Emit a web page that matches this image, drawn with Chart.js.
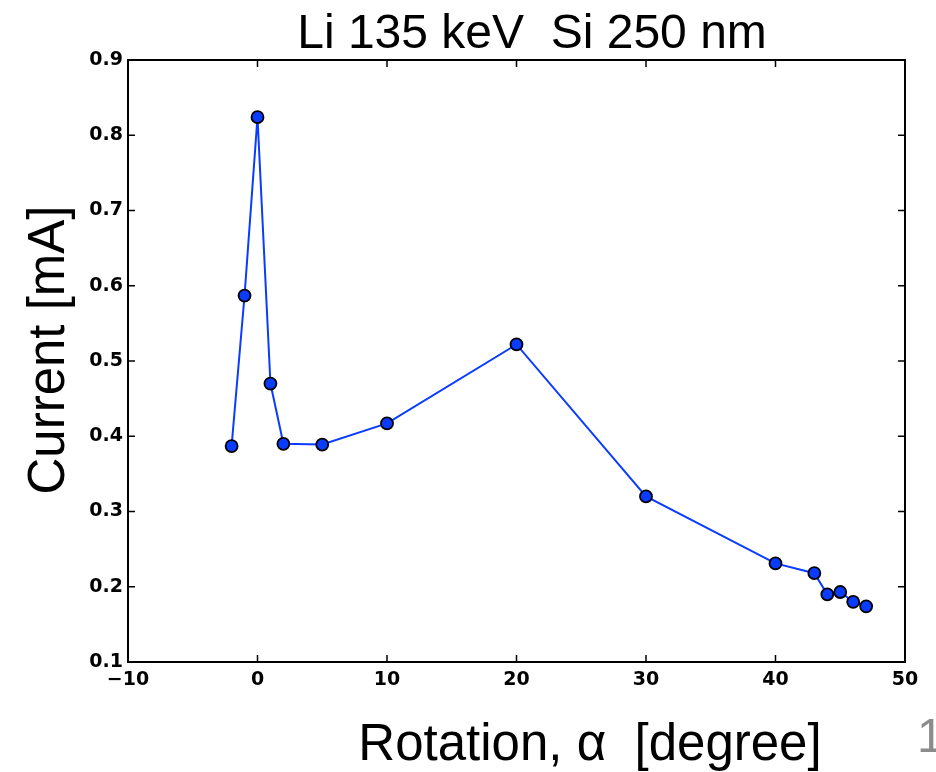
<!DOCTYPE html>
<html>
<head>
<meta charset="utf-8">
<script src="https://cdn.jsdelivr.net/npm/chart.js@4.4.0/dist/chart.umd.min.js"></script>
<style>
html, body { margin: 0; padding: 0; background: #fff; }
#wrap { width: 936px; height: 772px; }
</style>
</head>
<body>
<div id="wrap"><canvas id="chart" width="936" height="772"></canvas></div>
<script>
// Beam current vs. sample rotation
const rotation = [-2, -1, 0, 1, 2, 5, 10, 20, 30, 40, 43, 44, 45, 46, 47];
const current = [0.387, 0.587, 0.824, 0.470, 0.390, 0.389, 0.417, 0.522, 0.320, 0.231, 0.218, 0.190, 0.193, 0.180, 0.174];
const xTicks = [-10, 0, 10, 20, 30, 40, 50];
const yTicks = [0.1, 0.2, 0.3, 0.4, 0.5, 0.6, 0.7, 0.8, 0.9];

const titleText = 'Li 135 keV  Si 250 nm';
const xTitle = 'Rotation, \u03b1  [degree]';
const yTitle = 'Current [mA]';
const pageNo = '1';

const tickFont = { family: 'DejaVu Sans', weight: 'bold', size: 19 };
const textFont = '"Liberation Sans", Arial, sans-serif';

// box around the axes with inward ticks on every side
const framePlugin = {
    id: 'frame',
    afterDraw(chart) {
        const { ctx, chartArea: a, scales } = chart;
        const len = 7;
        ctx.save();
        ctx.strokeStyle = '#000';
        ctx.lineWidth = 1.5;
        ctx.beginPath();
        xTicks.forEach(v => {
            const px = scales.x.getPixelForValue(v);
            ctx.moveTo(px, a.bottom); ctx.lineTo(px, a.bottom - len);
            ctx.moveTo(px, a.top); ctx.lineTo(px, a.top + len);
        });
        yTicks.forEach(v => {
            const py = scales.y.getPixelForValue(v);
            ctx.moveTo(a.left, py); ctx.lineTo(a.left + len, py);
            ctx.moveTo(a.right, py); ctx.lineTo(a.right - len, py);
        });
        ctx.stroke();
        ctx.lineWidth = 2;
        ctx.strokeRect(a.left, a.top, a.right - a.left, a.bottom - a.top);

        // titles
        ctx.fillStyle = '#000';
        ctx.textAlign = 'center';
        ctx.textBaseline = 'alphabetic';
        ctx.font = '48px ' + textFont;
        ctx.fillText(titleText, 532, 48);
        ctx.font = '51px ' + textFont;
        ctx.fillText(xTitle, 590, 760);
        ctx.save();
        ctx.translate(64, 350);
        ctx.rotate(-Math.PI / 2);
        ctx.fillText(yTitle, 0, 0);
        ctx.restore();
        ctx.fillStyle = '#8c8c8c';
        ctx.textAlign = 'left';
        ctx.font = '48px ' + textFont;
        ctx.fillText(pageNo, 917, 752);
        ctx.restore();
    }
};

new Chart(document.getElementById('chart'), {
    type: 'line',
    data: {
        datasets: [{
            data: rotation.map((r, i) => ({ x: r, y: current[i] })),
            borderColor: '#0a3cff',
            borderWidth: 2,
            tension: 0,
            fill: false,
            pointRadius: 6,
            pointBackgroundColor: '#0a3cff',
            pointBorderColor: '#000',
            pointBorderWidth: 1.8
        }]
    },
    options: {
        responsive: false,
        animation: false,
        devicePixelRatio: 1,
        layout: { padding: { top: 60, right: 31, left: 0, bottom: 0 } },
        plugins: { legend: { display: false }, tooltip: { enabled: false } },
        scales: {
            x: {
                type: 'linear',
                min: -10, max: 50,
                afterFit: s => { s.height = 110; },
                afterBuildTicks: s => { s.ticks = xTicks.map(v => ({ value: v })); },
                grid: { display: false, drawTicks: false },
                border: { display: false },
                ticks: {
                    color: '#000', font: tickFont, padding: 7, maxRotation: 0,
                    callback: v => (v < 0 ? '\u2212' + Math.abs(v) : String(v))
                }
            },
            y: {
                type: 'linear',
                min: 0.1, max: 0.9,
                afterFit: s => { s.width = 128; },
                afterBuildTicks: s => { s.ticks = yTicks.map(v => ({ value: v })); },
                grid: { display: false, drawTicks: false },
                border: { display: false },
                ticks: {
                    color: '#000', font: tickFont, padding: 5,
                    callback: v => v.toFixed(1)
                }
            }
        }
    },
    plugins: [framePlugin]
});
</script>
</body>
</html>
